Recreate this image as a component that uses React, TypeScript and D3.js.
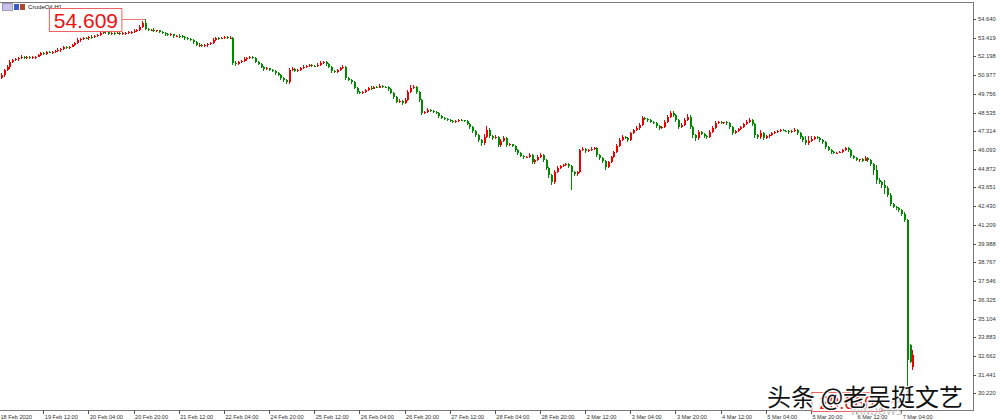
import React from "react";
import * as d3 from "d3";

// ---- data (CrudeOil, H1) ----
const closes = [
  50.79, 50.99, 51.31, 51.51, 51.84, 51.97, 52.03, 52.10, 52.16, 52.08,
  52.16, 52.10, 52.14, 52.18, 52.29, 52.42, 52.38, 52.49, 52.45, 52.51,
  52.55, 52.62, 52.68, 52.81, 52.77, 52.84, 52.94, 53.07, 53.27, 53.34,
  53.40, 53.37, 53.47, 53.44, 53.53, 53.60, 53.73, 53.86, 53.79, 53.66,
  53.73, 53.69, 53.75, 53.66, 53.70, 53.73, 53.76, 53.79, 53.86, 53.92,
  54.12, 54.38, 53.99, 53.92, 53.95, 53.86, 53.89, 53.79, 53.73, 53.66,
  53.60, 53.63, 53.53, 53.56, 53.51, 53.47, 53.40, 53.34, 53.27, 53.14,
  52.94, 52.97, 52.88, 52.94, 53.01, 53.07, 53.27, 53.40, 53.36, 53.42,
  53.47, 53.40, 53.43, 51.77, 51.70, 51.84, 51.90, 52.03, 52.10, 52.16,
  52.10, 51.84, 51.70, 51.51, 51.38, 51.42, 51.31, 51.25, 51.12, 50.99,
  50.79, 50.66, 50.53, 51.31, 51.38, 51.25, 51.31, 51.44, 51.51, 51.57,
  51.64, 51.60, 51.57, 51.64, 51.77, 51.84, 51.70, 51.51, 51.25, 51.18,
  51.31, 51.44, 51.51, 50.79, 50.66, 50.53, 50.14, 49.88, 49.81, 49.88,
  50.01, 50.14, 50.10, 50.20, 50.17, 50.27, 50.23, 50.20, 50.07, 49.81,
  49.55, 49.23, 49.29, 49.16, 49.36, 49.88, 50.14, 50.20, 49.88, 49.36,
  48.51, 48.57, 48.70, 48.64, 48.57, 48.51, 48.31, 48.18, 48.12, 48.05,
  47.99, 47.92, 47.99, 48.05, 48.02, 47.99, 47.79, 47.59, 47.33, 47.07,
  46.75, 46.55, 46.94, 47.40, 47.01, 46.88, 46.92, 46.42, 46.68, 46.88,
  46.42, 46.46, 46.36, 46.09, 45.90, 45.70, 45.64, 45.67, 45.77, 45.31,
  45.44, 45.64, 45.77, 45.44, 44.92, 44.46, 44.01, 44.66, 44.92, 45.05,
  45.12, 45.18, 45.05, 44.66, 44.53, 44.66, 46.09, 46.13, 46.03, 46.09,
  46.16, 46.22, 45.77, 45.57, 45.38, 44.99, 45.31, 45.64, 45.96, 46.36,
  46.75, 46.94, 46.90, 46.75, 47.20, 47.40, 47.53, 47.72, 48.18, 48.14,
  48.05, 47.92, 47.86, 47.66, 47.53, 47.59, 47.92, 48.25, 48.51, 48.38,
  48.05, 47.59, 47.72, 48.05, 48.25, 47.59, 47.07, 46.88, 47.27, 47.14,
  47.01, 46.94, 47.27, 47.53, 47.86, 47.92, 47.86, 47.90, 47.83, 47.59,
  47.20, 47.33, 47.46, 47.59, 47.79, 47.92, 48.05, 47.79, 47.07, 46.94,
  47.20, 46.88, 47.01, 47.07, 47.20, 47.27, 47.33, 47.40, 47.36, 47.33,
  47.27, 47.33, 47.40, 47.20, 46.94, 46.75, 46.55, 46.68, 46.81, 46.94,
  46.88, 46.75, 46.62, 46.29, 46.09, 45.96, 45.90, 45.93, 45.96, 46.09,
  46.22, 46.09, 45.70, 45.57, 45.44, 45.48, 45.41, 45.57, 45.44, 45.18,
  44.79, 44.14, 44.01, 43.81, 43.62, 43.16, 42.57, 42.38, 42.31, 42.18,
  41.92, 41.53, 32.40, 32.26, 32.72,
];

const opens = [
  50.66, 50.79, 50.99, 51.31, 51.51, 51.84, 51.97, 52.03, 52.10, 52.16,
  52.08, 52.16, 52.10, 52.14, 52.18, 52.29, 52.42, 52.38, 52.49, 52.45,
  52.51, 52.55, 52.62, 52.68, 52.81, 52.77, 52.84, 52.94, 53.07, 53.27,
  53.34, 53.40, 53.37, 53.47, 53.44, 53.53, 53.60, 53.73, 53.86, 53.79,
  53.66, 53.73, 53.69, 53.75, 53.66, 53.70, 53.73, 53.76, 53.79, 53.86,
  53.92, 54.12, 54.38, 53.99, 53.92, 53.95, 53.86, 53.89, 53.79, 53.73,
  53.66, 53.60, 53.63, 53.53, 53.56, 53.51, 53.47, 53.40, 53.34, 53.27,
  53.14, 52.94, 52.97, 52.88, 52.94, 53.01, 53.07, 53.27, 53.40, 53.36,
  53.42, 53.47, 53.40, 53.43, 51.77, 51.70, 51.84, 51.90, 52.03, 52.10,
  52.16, 52.10, 51.84, 51.70, 51.51, 51.38, 51.42, 51.31, 51.25, 51.12,
  50.99, 50.79, 50.66, 50.53, 51.31, 51.38, 51.25, 51.31, 51.44, 51.51,
  51.57, 51.64, 51.60, 51.57, 51.64, 51.77, 51.84, 51.70, 51.51, 51.25,
  51.18, 51.31, 51.44, 51.51, 50.79, 50.66, 50.53, 50.14, 49.88, 49.81,
  49.88, 50.01, 50.14, 50.10, 50.20, 50.17, 50.27, 50.23, 50.20, 50.07,
  49.81, 49.55, 49.23, 49.29, 49.16, 49.36, 49.88, 50.14, 50.20, 49.88,
  49.36, 48.51, 48.57, 48.70, 48.64, 48.57, 48.51, 48.31, 48.18, 48.12,
  48.05, 47.99, 47.92, 47.99, 48.05, 48.02, 47.99, 47.79, 47.59, 47.33,
  47.07, 46.75, 46.55, 46.94, 47.40, 47.01, 46.88, 46.92, 46.42, 46.68,
  46.88, 46.42, 46.46, 46.36, 46.09, 45.90, 45.70, 45.64, 45.67, 45.77,
  45.31, 45.44, 45.64, 45.77, 45.44, 44.92, 44.46, 44.01, 44.66, 44.92,
  45.05, 45.12, 45.18, 45.05, 44.66, 44.53, 44.66, 46.09, 46.13, 46.03,
  46.09, 46.16, 46.22, 45.77, 45.57, 45.38, 44.99, 45.31, 45.64, 45.96,
  46.36, 46.75, 46.94, 46.90, 46.75, 47.20, 47.40, 47.53, 47.72, 48.18,
  48.14, 48.05, 47.92, 47.86, 47.66, 47.53, 47.59, 47.92, 48.25, 48.51,
  48.38, 48.05, 47.59, 47.72, 48.05, 48.25, 47.59, 47.07, 46.88, 47.27,
  47.14, 47.01, 46.94, 47.27, 47.53, 47.86, 47.92, 47.86, 47.90, 47.83,
  47.59, 47.20, 47.33, 47.46, 47.59, 47.79, 47.92, 48.05, 47.79, 47.07,
  46.94, 47.20, 46.88, 47.01, 47.07, 47.20, 47.27, 47.33, 47.40, 47.36,
  47.33, 47.27, 47.33, 47.40, 47.20, 46.94, 46.75, 46.55, 46.68, 46.81,
  46.94, 46.88, 46.75, 46.62, 46.29, 46.09, 45.96, 45.90, 45.93, 45.96,
  46.09, 46.22, 46.09, 45.70, 45.57, 45.44, 45.48, 45.41, 45.57, 45.44,
  45.18, 44.79, 44.14, 44.01, 43.81, 43.62, 43.16, 42.57, 42.38, 42.31,
  42.18, 41.92, 41.53, 33.37, 31.94,
];

// wick lengths above the body top / below the body bottom (price units)
const upperWicks = [
  0.08, 0.1, 0.06, 0.1, 0.13, 0.06, 0.08, 0.05, 0.1, 0.06,
  0.08, 0.05, 0.1, 0.06, 0.08, 0.1, 0.05, 0.08, 0.06, 0.05,
  0.08, 0.1, 0.05, 0.06, 0.08, 0.05, 0.1, 0.08, 0.13, 0.06,
  0.05, 0.08, 0.06, 0.1, 0.05, 0.08, 0.1, 0.13, 0.06, 0.05,
  0.08, 0.06, 0.05, 0.1, 0.06, 0.05, 0.08, 0.06, 0.1, 0.08,
  0.1, 0.13, 0.23, 0.06, 0.05, 0.08, 0.06, 0.05, 0.08, 0.06,
  0.05, 0.08, 0.06, 0.05, 0.1, 0.06, 0.05, 0.08, 0.06, 0.05,
  0.08, 0.1, 0.06, 0.08, 0.05, 0.1, 0.13, 0.06, 0.08, 0.05,
  0.06, 0.08, 0.1, 0.06, 0.1, 0.08, 0.05, 0.1, 0.06, 0.08,
  0.05, 0.06, 0.08, 0.05, 0.06, 0.08, 0.05, 0.06, 0.05, 0.08,
  0.06, 0.05, 0.08, 0.16, 0.1, 0.06, 0.08, 0.05, 0.1, 0.06,
  0.08, 0.05, 0.06, 0.1, 0.13, 0.08, 0.06, 0.05, 0.08, 0.06,
  0.1, 0.08, 0.1, 0.06, 0.05, 0.08, 0.06, 0.05, 0.08, 0.06,
  0.08, 0.06, 0.1, 0.05, 0.08, 0.1, 0.06, 0.05, 0.08, 0.05,
  0.06, 0.08, 0.1, 0.05, 0.1, 0.16, 0.2, 0.13, 0.08, 0.06,
  0.06, 0.1, 0.13, 0.08, 0.05, 0.06, 0.08, 0.05, 0.06, 0.08,
  0.05, 0.06, 0.08, 0.1, 0.06, 0.05, 0.08, 0.06, 0.05, 0.06,
  0.08, 0.06, 0.2, 0.23, 0.1, 0.08, 0.13, 0.06, 0.16, 0.1,
  0.06, 0.08, 0.05, 0.06, 0.08, 0.05, 0.06, 0.05, 0.1, 0.06,
  0.1, 0.13, 0.1, 0.06, 0.05, 0.08, 0.06, 0.13, 0.1, 0.08,
  0.06, 0.08, 0.06, 0.05, 0.08, 0.06, 0.1, 0.13, 0.08, 0.06,
  0.1, 0.06, 0.05, 0.08, 0.06, 0.05, 0.1, 0.08, 0.1, 0.13,
  0.1, 0.13, 0.08, 0.06, 0.1, 0.08, 0.1, 0.13, 0.16, 0.1,
  0.06, 0.05, 0.08, 0.06, 0.05, 0.08, 0.13, 0.1, 0.16, 0.1,
  0.06, 0.1, 0.13, 0.16, 0.2, 0.1, 0.06, 0.05, 0.1, 0.08,
  0.06, 0.08, 0.1, 0.13, 0.1, 0.08, 0.06, 0.05, 0.08, 0.06,
  0.05, 0.1, 0.08, 0.1, 0.06, 0.1, 0.13, 0.06, 0.05, 0.08,
  0.2, 0.1, 0.08, 0.06, 0.08, 0.06, 0.1, 0.08, 0.06, 0.05,
  0.06, 0.08, 0.1, 0.06, 0.08, 0.05, 0.26, 0.3, 0.2, 0.1,
  0.08, 0.06, 0.05, 0.08, 0.06, 0.05, 0.08, 0.06, 0.1, 0.08,
  0.1, 0.08, 0.06, 0.05, 0.08, 0.06, 0.1, 0.13, 0.08, 0.06,
  0.1, 0.33, 0.1, 0.08, 0.3, 0.13, 0.1, 0.06, 0.08, 0.1,
  0.06, 0.1, 0.05, 0.05, 0.33,
];

const lowerWicks = [
  0.1, 0.08, 0.13, 0.06, 0.1, 0.08, 0.05, 0.1, 0.06, 0.08,
  0.05, 0.08, 0.06, 0.1, 0.05, 0.08, 0.1, 0.06, 0.05, 0.08,
  0.06, 0.05, 0.1, 0.08, 0.06, 0.1, 0.05, 0.06, 0.08, 0.1,
  0.06, 0.05, 0.1, 0.08, 0.06, 0.05, 0.08, 0.06, 0.1, 0.08,
  0.05, 0.1, 0.06, 0.08, 0.05, 0.1, 0.06, 0.08, 0.05, 0.06,
  0.08, 0.06, 0.1, 0.08, 0.06, 0.1, 0.05, 0.08, 0.06, 0.1,
  0.08, 0.06, 0.1, 0.05, 0.08, 0.06, 0.1, 0.05, 0.08, 0.1,
  0.06, 0.1, 0.08, 0.06, 0.1, 0.05, 0.08, 0.06, 0.1, 0.05,
  0.08, 0.06, 0.05, 0.13, 0.1, 0.06, 0.08, 0.05, 0.1, 0.06,
  0.08, 0.1, 0.06, 0.08, 0.1, 0.05, 0.08, 0.06, 0.1, 0.08,
  0.1, 0.13, 0.16, 0.1, 0.06, 0.08, 0.05, 0.06, 0.08, 0.05,
  0.06, 0.08, 0.05, 0.06, 0.08, 0.05, 0.1, 0.08, 0.1, 0.06,
  0.08, 0.06, 0.05, 0.1, 0.08, 0.1, 0.08, 0.1, 0.06, 0.08,
  0.05, 0.06, 0.08, 0.05, 0.06, 0.05, 0.08, 0.06, 0.1, 0.08,
  0.1, 0.08, 0.06, 0.1, 0.08, 0.06, 0.08, 0.05, 0.1, 0.13,
  0.16, 0.08, 0.06, 0.05, 0.08, 0.06, 0.1, 0.08, 0.06, 0.05,
  0.08, 0.06, 0.05, 0.08, 0.06, 0.1, 0.08, 0.1, 0.13, 0.1,
  0.16, 0.2, 0.1, 0.08, 0.13, 0.1, 0.06, 0.13, 0.1, 0.08,
  0.1, 0.06, 0.08, 0.1, 0.13, 0.08, 0.1, 0.06, 0.08, 0.16,
  0.1, 0.06, 0.05, 0.1, 0.13, 0.16, 0.2, 0.1, 0.06, 0.08,
  0.05, 0.08, 0.1, 1.17, 0.13, 0.1, 0.06, 0.08, 0.1, 0.06,
  0.05, 0.08, 0.1, 0.13, 0.16, 0.2, 0.1, 0.06, 0.08, 0.05,
  0.06, 0.08, 0.1, 0.13, 0.06, 0.08, 0.05, 0.1, 0.06, 0.08,
  0.1, 0.08, 0.06, 0.1, 0.13, 0.08, 0.06, 0.05, 0.08, 0.13,
  0.16, 0.1, 0.08, 0.06, 0.05, 0.13, 0.16, 0.2, 0.1, 0.08,
  0.13, 0.1, 0.06, 0.05, 0.08, 0.06, 0.1, 0.05, 0.08, 0.1,
  0.13, 0.08, 0.06, 0.05, 0.08, 0.06, 0.05, 0.1, 0.16, 0.13,
  0.1, 0.16, 0.08, 0.1, 0.06, 0.05, 0.08, 0.06, 0.05, 0.08,
  0.1, 0.06, 0.05, 0.1, 0.13, 0.1, 0.16, 0.13, 0.08, 0.06,
  0.08, 0.1, 0.13, 0.1, 0.08, 0.1, 0.06, 0.08, 0.05, 0.06,
  0.08, 0.1, 0.13, 0.08, 0.06, 0.1, 0.08, 0.06, 0.1, 0.13,
  0.33, 0.26, 0.16, 0.2, 0.4, 0.16, 0.13, 0.1, 0.13, 0.16,
  0.13, 0.1, 2.74, 0.06, 0.2,
];

const priceTicks = [
  54.64, 53.419, 52.198, 50.977, 49.756, 48.535, 47.314, 46.093, 44.872, 43.651,
  42.43, 41.209, 39.988, 38.767, 37.546, 36.325, 35.104, 33.883, 32.662, 31.441, 30.22,
];

const timeLabels = [
  "18 Feb 2020", "19 Feb 12:00", "20 Feb 04:00", "20 Feb 20:00", "21 Feb 12:00",
  "22 Feb 04:00", "24 Feb 20:00", "25 Feb 12:00", "26 Feb 04:00", "26 Feb 20:00",
  "27 Feb 12:00", "28 Feb 04:00", "28 Feb 20:00", "2 Mar 12:00", "3 Mar 04:00",
  "3 Mar 20:00", "4 Mar 12:00", "5 Mar 04:00", "5 Mar 20:00", "6 Mar 12:00", "7 Mar 04:00",
];
const barsPerLabel = 16;

const symbolTitle = "CrudeOil,H1";
const highLabel = 54.609;
const highBar = 52;
const lowLabel = 29.66;
const lowBar = 322;
const watermark = "头条 @老吴挺文艺";

const UP = "#ee0000";
const DOWN = "#008a00";
const AXIS_FONT = "'Liberation Sans', Arial, sans-serif";

export default function App() {
  const W = 1000;
  const H = 420;
  const right = 973;
  const top = 2;
  const bottom = 410;

  const x = d3.scaleLinear().domain([0, 320]).range([-1.85, 901.2]);
  const y = d3.scaleLinear().domain([30.22, 54.64]).range([393.4, 19]);

  const candles = closes.map((c, i) => {
    const o = opens[i];
    const hi = Math.max(o, c) + upperWicks[i];
    const lo = Math.min(o, c) - lowerWicks[i];
    const cx = Math.round(x(i));
    const yTop = y(Math.max(o, c));
    const yBot = y(Math.min(o, c));
    const col = c > o ? UP : DOWN;
    return (
      <g key={i} shapeRendering="crispEdges">
        <line x1={cx + 0.5} x2={cx + 0.5} y1={y(hi)} y2={y(lo)} stroke={col} strokeWidth={1} />
        <rect x={cx} y={yTop} width={2} height={Math.max(1, yBot - yTop)} fill={col} />
      </g>
    );
  });

  const hx = x(highBar);
  const hy = y(highLabel);
  const lx = x(lowBar);
  const ly = y(lowLabel);

  return (
    <svg
      width={W}
      height={H}
      style={{ position: "absolute", left: 0, top: 0, background: "#fff" }}
      xmlns="http://www.w3.org/2000/svg"
    >
      <rect x={0} y={0} width={W} height={H} fill="#fff" />
      <defs>
        <clipPath id="plot">
          <rect x={0} y={top} width={right} height={bottom - top} />
        </clipPath>
      </defs>

      {/* frame */}
      <g shapeRendering="crispEdges" stroke="#7a7a7a" strokeWidth={1}>
        <line x1={0} x2={right + 0.5} y1={top + 0.5} y2={top + 0.5} />
        <line x1={right + 0.5} x2={right + 0.5} y1={top} y2={bottom + 1} />
        <line x1={0} x2={right + 0.5} y1={bottom + 0.5} y2={bottom + 0.5} />
      </g>

      {/* price axis */}
      <g>
        {priceTicks.map((p) => (
          <g key={p}>
            <line
              x1={right}
              x2={right + 3}
              y1={Math.round(y(p)) + 0.5}
              y2={Math.round(y(p)) + 0.5}
              stroke="#555"
              shapeRendering="crispEdges"
            />
            <text
              x={right + 5}
              y={y(p) + 2}
              fontSize={5.8}
              fontFamily={AXIS_FONT}
              fill="#333"
            >
              {p.toFixed(3)}
            </text>
          </g>
        ))}
      </g>

      {/* time axis */}
      <g>
        {timeLabels.map((t, j) => {
          const tx = x(j * barsPerLabel);
          return (
            <g key={t}>
              {j > 0 && (
                <line
                  x1={Math.round(tx) + 0.5}
                  x2={Math.round(tx) + 0.5}
                  y1={bottom}
                  y2={bottom + 4}
                  stroke="#555"
                  shapeRendering="crispEdges"
                />
              )}
              <text
                x={j === 0 ? 0.5 : tx + 1.5}
                y={bottom + 9}
                fontSize={5.6}
                fontFamily={AXIS_FONT}
                fill="#333"
              >
                {t}
              </text>
            </g>
          );
        })}
      </g>

      {/* candles */}
      <g clipPath="url(#plot)">{candles}</g>

      {/* title + icons */}
      <g shapeRendering="crispEdges">
        <rect x={2} y={3} width={10} height={7} fill="#c9c3e6" stroke="#8c86b8" strokeWidth={0.8} />
        <rect x={13.5} y={4} width={5} height={6} fill="#3b5bc8" />
        <rect x={19.5} y={4} width={5} height={6} fill="#b5452f" />
      </g>
      <text x={28} y={9} fontSize={6.2} fontFamily={AXIS_FONT} fill="#111">
        {symbolTitle}
      </text>

      {/* high price label */}
      <line x1={hx - 23} x2={hx} y1={hy} y2={hy} stroke={UP} strokeWidth={0.8} opacity={0.7} />
      <rect x={hx - 95.5} y={8.5} width={72.5} height={23} fill="#fff" stroke="#f06060" strokeWidth={1} />
      <text
        x={hx - 59}
        y={28}
        textAnchor="middle"
        fontSize={21}
        fontFamily={AXIS_FONT}
        fill="#ee1111"
      >
        {highLabel.toFixed(3)}
      </text>

      {/* low price label (mostly hidden under the watermark) */}
      <line x1={lx - 25} x2={lx} y1={ly} y2={ly} stroke={UP} strokeWidth={0.8} opacity={0.7} />
      <rect x={lx - 95} y={392.5} width={70} height={19} fill="#fff" stroke="#f06060" strokeWidth={1} />
      <text
        x={lx - 60}
        y={409}
        textAnchor="middle"
        fontSize={18}
        fontFamily={AXIS_FONT}
        fill="#ee1111"
      >
        {lowLabel.toFixed(3)}
      </text>
      <text x={850} y={415} fontSize={10} fontFamily="'DejaVu Sans', sans-serif" fill="#c4c4c4">
        WINDOWS
      </text>

      {/* watermark */}
      <text
        x={767}
        y={406}
        fontSize={24}
        fontFamily="'Noto Sans CJK SC', sans-serif"
        fill="#111"
        stroke="#fff"
        strokeWidth={2.5}
        paintOrder="stroke"
        style={{ paintOrder: "stroke" }}
      >
        {watermark}
      </text>
    </svg>
  );
}
